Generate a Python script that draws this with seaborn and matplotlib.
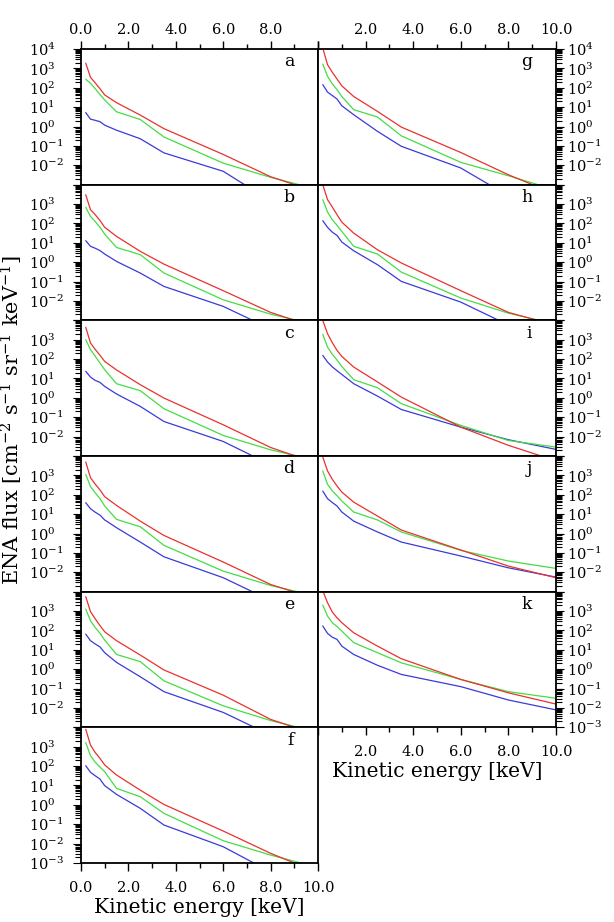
import numpy as np
import pandas as pd
import matplotlib
matplotlib.use("Agg")
import matplotlib.pyplot as plt
import seaborn as sns
from matplotlib.ticker import FixedLocator, LogLocator, NullFormatter, MultipleLocator

# ---------------- data (log10 of ENA flux) ----------------
energy = [0.2, 0.4, 0.6, 0.8, 1.0, 1.5, 2.5, 3.5, 6.0, 8.0, 10.0]

a_red   = [3.27, 2.54, 2.25, 1.95, 1.63, 1.23, 0.59, -0.11, -1.44, -2.59, -3.40]
a_green = [2.44, 2.23, 1.95, 1.65, 1.37, 0.76, 0.36, -0.54, -1.89, -2.62, -3.25]
a_blue  = [0.72, 0.38, 0.32, 0.25, 0.07, -0.19, -0.63, -1.36, -2.31, -3.84, -5.0]

b_red   = [3.48, 2.71, 2.45, 2.15, 1.80, 1.33, 0.56, -0.10, -1.47, -2.59, -3.40]
b_green = [2.83, 2.36, 2.10, 1.80, 1.45, 0.76, 0.39, -0.56, -1.94, -2.68, -3.25]
b_blue  = [1.11, 0.82, 0.72, 0.60, 0.42, 0.04, -0.56, -1.25, -2.28, -3.44, -5.0]

c_red   = [3.64, 2.83, 2.50, 2.20, 1.88, 1.44, 0.68, -0.01, -1.39, -2.56, -3.40]
c_green = [3.00, 2.49, 2.15, 1.80, 1.45, 0.73, 0.37, -0.56, -1.94, -2.68, -3.25]
c_blue  = [1.37, 1.07, 0.90, 0.80, 0.59, 0.20, -0.44, -1.22, -2.25, -3.45, -5.0]

d_red   = [3.69, 2.88, 2.55, 2.25, 1.90, 1.45, 0.64, -0.10, -1.47, -2.63, -3.40]
d_green = [3.05, 2.42, 2.10, 1.80, 1.42, 0.73, 0.35, -0.61, -1.94, -2.68, -3.25]
d_blue  = [1.59, 1.28, 1.10, 0.95, 0.70, 0.30, -0.44, -1.20, -2.28, -3.45, -5.0]

e_red   = [3.74, 2.97, 2.60, 2.25, 1.93, 1.47, 0.73, -0.04, -1.34, -2.59, -3.40]
e_green = [3.10, 2.50, 2.15, 1.85, 1.50, 0.76, 0.39, -0.60, -1.89, -2.65, -3.25]
e_blue  = [1.81, 1.47, 1.30, 1.15, 0.85, 0.35, -0.39, -1.16, -2.23, -3.40, -5.0]

f_red   = [3.90, 3.09, 2.70, 2.40, 2.06, 1.54, 0.76, 0.02, -1.35, -2.50, -3.50]
f_green = [3.21, 2.54, 2.20, 1.95, 1.71, 0.85, 0.42, -0.44, -1.85, -2.59, -3.23]
f_blue  = [2.02, 1.68, 1.50, 1.33, 0.99, 0.54, -0.18, -1.04, -2.16, -3.46, -5.0]

g_red   = [4.05, 3.19, 2.80, 2.45, 2.10, 1.55, 0.78, -0.03, -1.34, -2.49, -3.50]
g_green = [3.22, 2.59, 2.20, 1.90, 1.55, 0.87, 0.49, -0.48, -1.85, -2.54, -3.28]
g_blue  = [2.16, 1.78, 1.60, 1.42, 1.07, 0.61, -0.25, -1.02, -2.14, -3.58, -5.0]

h_red   = [4.00, 3.23, 2.85, 2.45, 2.07, 1.50, 0.64, -0.04, -1.47, -2.59, -3.27]
h_green = [3.23, 2.59, 2.19, 1.90, 1.59, 0.82, 0.42, -0.51, -1.85, -2.63, -3.20]
h_blue  = [2.14, 1.80, 1.55, 1.38, 1.04, 0.59, -0.13, -0.99, -2.06, -3.24, -5.0]

i_red   = [4.00, 3.31, 2.85, 2.45, 2.14, 1.59, 0.82, 0.04, -1.51, -2.45, -3.25]
i_green = [3.28, 2.62, 2.25, 1.95, 1.62, 0.94, 0.52, -0.30, -1.42, -2.20, -2.54]
i_blue  = [2.19, 1.85, 1.60, 1.40, 1.21, 0.73, 0.09, -0.60, -1.51, -2.16, -2.66]

j_red   = [3.95, 3.23, 2.80, 2.45, 2.14, 1.62, 0.90, 0.18, -0.85, -1.68, -2.28]
j_green = [3.23, 2.54, 2.20, 1.95, 1.68, 1.11, 0.70, 0.08, -0.87, -1.42, -1.80]
j_blue  = [2.19, 1.80, 1.60, 1.42, 1.11, 0.64, 0.08, -0.44, -1.16, -1.77, -2.25]

k_red   = [4.05, 3.43, 2.95, 2.65, 2.40, 1.88, 1.19, 0.54, -0.53, -1.22, -1.80]
k_green = [3.31, 2.74, 2.40, 2.20, 1.97, 1.37, 0.85, 0.33, -0.53, -1.16, -1.50]
k_blue  = [2.23, 1.85, 1.65, 1.54, 1.19, 0.76, 0.20, -0.27, -0.90, -1.59, -2.10]

panel_letters = ["a", "b", "c", "d", "e", "f", "g", "h", "i", "j", "k"]
x_tick_values = [0, 2, 4, 6, 8, 10]
y_tick_exponents = [-3, -2, -1, 0, 1, 2, 3, 4]
xlabel_text = "Kinetic energy [keV]"
ylabel_text = r"ENA flux [cm$^{-2}$ s$^{-1}$ sr$^{-1}$ keV$^{-1}$]"

panels = {
    "a": (a_red, a_green, a_blue), "b": (b_red, b_green, b_blue),
    "c": (c_red, c_green, c_blue), "d": (d_red, d_green, d_blue),
    "e": (e_red, e_green, e_blue), "f": (f_red, f_green, f_blue),
    "g": (g_red, g_green, g_blue), "h": (h_red, h_green, h_blue),
    "i": (i_red, i_green, i_blue), "j": (j_red, j_green, j_blue),
    "k": (k_red, k_green, k_blue),
}

# ---------------- style ----------------
sns.set_style("ticks")
plt.rcParams["font.family"] = ["DejaVu Serif"]
plt.rcParams["mathtext.fontset"] = "dejavuserif"
for key in ["text.color", "axes.labelcolor", "xtick.color", "ytick.color", "axes.edgecolor"]:
    plt.rcParams[key] = "black"

colors = {"red": "#e8322e", "green": "#44dd44", "blue": "#3a3ad8"}
W, H = 614, 922
fig = plt.figure(figsize=(W / 100, H / 100), dpi=100)

top_px = 49.0
row_h = (863.0 - 49.0) / 6.0
cols = [(81.0, 318.0), (318.0, 556.0)]

FS = 10.5
XLABEL_FS = 14.5
YLABEL_FS = 15


def make_ax(col, row):
    x0, x1 = cols[col]
    y_top = top_px + row * row_h
    return fig.add_axes([x0 / W, 1 - (y_top + row_h) / H, (x1 - x0) / W, row_h / H])


layout = [("a", 0, 0), ("b", 0, 1), ("c", 0, 2), ("d", 0, 3), ("e", 0, 4), ("f", 0, 5),
          ("g", 1, 0), ("h", 1, 1), ("i", 1, 2), ("j", 1, 3), ("k", 1, 4)]

for letter, col, row in layout:
    ax = make_ax(col, row)
    red, green, blue = panels[letter]
    df = pd.DataFrame({
        "energy": energy * 3,
        "flux": [10 ** v for v in red + green + blue],
        "series": ["red"] * len(energy) + ["green"] * len(energy) + ["blue"] * len(energy),
    })
    ax.set_yscale("log")
    for s in ["blue", "green", "red"]:
        sub = df[df["series"] == s]
        sns.lineplot(data=sub, x="energy", y="flux", color=colors[s], lw=0.9,
                     ax=ax, legend=False, estimator=None, sort=False)
    ax.set_xlim(0, 10)
    ax.set_ylim(1e-3, 1e4)
    ax.set_xlabel("")
    ax.set_ylabel("")
    for sp in ax.spines.values():
        sp.set_visible(True)
        sp.set_linewidth(1.3)
        sp.set_color("black")

    is_top = row == 0
    is_bottom = (col == 0 and row == 5) or (col == 1 and row == 4)

    # x ticks
    ax.xaxis.set_major_locator(FixedLocator(x_tick_values))
    ax.xaxis.set_minor_locator(MultipleLocator(1.0))
    xlabels = []
    for v in x_tick_values:
        lab = f"{v:.1f}"
        if col == 0 and is_top and v == 10:
            lab = ""
        if col == 1 and v == 0:
            lab = ""
        xlabels.append(lab)
    ax.set_xticklabels(xlabels)
    ax.tick_params(axis="x", which="both", direction="out", top=is_top, bottom=is_bottom,
                   labeltop=is_top, labelbottom=is_bottom, labelsize=FS, width=1.0,
                   pad=(3 if is_top else 7))
    ax.tick_params(axis="x", which="major", length=6)
    ax.tick_params(axis="x", which="minor", length=3.5)

    # y ticks
    ax.yaxis.set_major_locator(FixedLocator([10.0 ** e for e in y_tick_exponents]))
    ax.yaxis.set_minor_locator(LogLocator(base=10, subs=np.arange(2, 10), numticks=20))
    ax.yaxis.set_minor_formatter(NullFormatter())
    ylabels = []
    for e in y_tick_exponents:
        show = True
        if e == 4 and not is_top:
            show = False
        if e == -3 and not is_bottom:
            show = False
        ylabels.append(r"$10^{%d}$" % e if show else "")
    ax.set_yticklabels(ylabels)
    ax.tick_params(axis="y", which="both", direction="out", left=(col == 0), right=(col == 1),
                   labelleft=(col == 0), labelright=(col == 1), labelsize=FS, width=0.8,
                   pad=(31.5 if col == 0 else 2))
    ax.tick_params(axis="y", which="major", length=6)
    ax.tick_params(axis="y", which="minor", length=4)
    if col == 0:
        for t in ax.get_yticklabels():
            t.set_horizontalalignment("left")

    ax.text(0.9, 0.905, letter, transform=ax.transAxes, ha="right", va="center",
            fontsize=12.5)

    if is_bottom:
        ax.set_xlabel(xlabel_text, fontsize=XLABEL_FS, labelpad=2)

fig.text(12 / W, 1 - 420 / H, ylabel_text, rotation=90, ha="center", va="center",
         fontsize=YLABEL_FS)

fig.savefig("out.png", dpi=100)
